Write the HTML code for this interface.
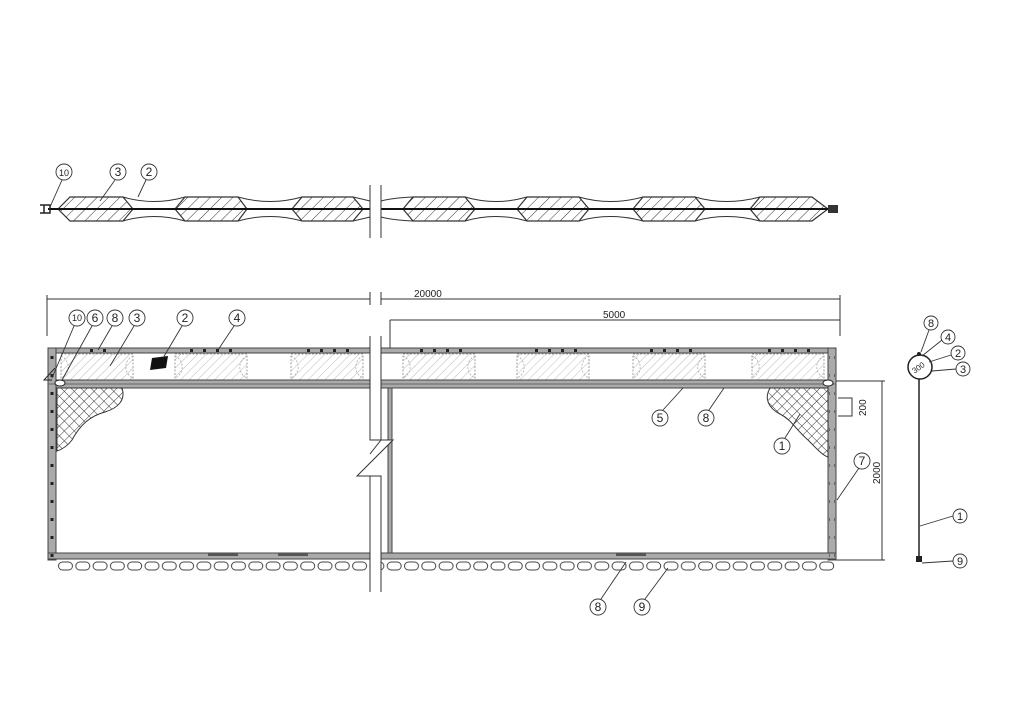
<!DOCTYPE html>
<html><head><meta charset="utf-8"><style>
html,body{margin:0;padding:0;background:#fff}
svg{display:block}
text{font-family:"Liberation Sans",sans-serif;fill:#222}
</style></head><body>
<svg width="1024" height="724" viewBox="0 0 1024 724" xmlns="http://www.w3.org/2000/svg">
<defs>
<pattern id="h1" patternUnits="userSpaceOnUse" width="8" height="8" patternTransform="rotate(45)"><line x1="0" y1="0" x2="0" y2="8" stroke="#333" stroke-width="1"/></pattern>
<pattern id="h2" patternUnits="userSpaceOnUse" width="6" height="6" patternTransform="rotate(45)"><line x1="0" y1="0" x2="0" y2="6" stroke="#aaa" stroke-width="0.8"/></pattern>
<pattern id="xh" patternUnits="userSpaceOnUse" width="7" height="7" patternTransform="rotate(45)"><path d="M0 0V7M0 0H7" stroke="#333" stroke-width="1" fill="none"/></pattern>
<pattern id="wt" patternUnits="userSpaceOnUse" x="57" y="560" width="17.3" height="12"><rect x="1.5" y="2" width="14" height="8" rx="4" fill="#fff" stroke="#444" stroke-width="1"/></pattern>
<pattern id="pd" patternUnits="userSpaceOnUse" x="0" y="350" width="8" height="18"><rect x="2.5" y="6" width="3" height="3" fill="#222"/></pattern>
</defs>

<!-- TOP VIEW -->
<g fill="none" stroke="#333" stroke-width="1">
<path d="M123 197 Q154 206 185 197 M238 197 Q270 206 302 197 M353 197 Q362 199 370 201"/>
<path d="M123 221 Q154 212 185 221 M238 221 Q270 212 302 221 M353 221 Q362 219 370 217"/>
<path d="M381 201 Q392 198 413 197 M465 197 Q496 206 527 197 M579 197 Q610 206 643 197 M695 197 Q726 206 760 197"/>
<path d="M381 217 Q392 220 413 221 M465 221 Q496 212 527 221 M579 221 Q610 212 643 221 M695 221 Q726 212 760 221"/>
</g>
<g fill="url(#h1)" stroke="#333" stroke-width="1.2">
<path d="M58 209L70 197L123 197L133 209L123 221L70 221Z"/>
<path d="M175 209L185 197L238 197L247 209L238 221L185 221Z"/>
<path d="M292 209L302 197L353 197L363 209L353 221L302 221Z"/>
<path d="M403 209L413 197L465 197L475 209L465 221L413 221Z"/>
<path d="M517 209L527 197L579 197L589 209L579 221L527 221Z"/>
<path d="M633 209L643 197L695 197L705 209L695 221L643 221Z"/>
<path d="M750 209L760 197L812 197L828 209L812 221L760 221Z"/>
</g>
<line x1="48" y1="209" x2="370" y2="209" stroke="#111" stroke-width="2"/>
<line x1="381" y1="209" x2="836" y2="209" stroke="#111" stroke-width="2"/>
<path d="M40 205H50V213H40M44 205V213" fill="none" stroke="#222" stroke-width="1.5"/>
<rect x="828" y="205" width="10" height="8" fill="#333"/>
<line x1="370" y1="185" x2="370" y2="238" stroke="#333"/>
<line x1="381" y1="185" x2="381" y2="238" stroke="#333"/>

<!-- DIMENSIONS -->
<g stroke="#333" stroke-width="1" fill="none">
<line x1="47" y1="299" x2="370" y2="299"/><line x1="381" y1="299" x2="840" y2="299"/>
<line x1="47" y1="295" x2="47" y2="336"/><line x1="840" y1="295" x2="840" y2="336"/>
<line x1="370" y1="292" x2="370" y2="305"/><line x1="381" y1="292" x2="381" y2="305"/>
<line x1="390" y1="320" x2="840" y2="320"/><line x1="390" y1="320" x2="390" y2="349"/>
<line x1="836" y1="381" x2="885" y2="381"/><line x1="836" y1="560" x2="885" y2="560"/>
<line x1="882" y1="381" x2="882" y2="560"/>
<path d="M838 398H852V416H838"/>
</g>
<text x="414" y="297" font-size="10">20000</text>
<text x="603" y="318" font-size="10">5000</text>
<text x="866" y="416" font-size="10" transform="rotate(-90 866 416)">200</text>
<text x="880" y="484" font-size="10" transform="rotate(-90 880 484)">2000</text>

<!-- PLAN VIEW -->
<g fill="url(#h2)" stroke="#888" stroke-width="0.8" stroke-dasharray="2 1.5">
<rect x="61" y="354" width="72" height="26"/><rect x="175" y="354" width="72" height="26"/>
<rect x="291" y="354" width="72" height="26"/><rect x="403" y="354" width="72" height="26"/>
<rect x="517" y="354" width="72" height="26"/><rect x="633" y="354" width="72" height="26"/>
<rect x="752" y="354" width="72" height="26"/>
</g>
<g fill="none" stroke="#aaa" stroke-width="0.8" stroke-dasharray="2 1.5">
<path d="M61 356A12 12 0 0 1 61 378M133 356A12 12 0 0 0 133 378M175 356A12 12 0 0 1 175 378M247 356A12 12 0 0 0 247 378M291 356A12 12 0 0 1 291 378M363 356A12 12 0 0 0 363 378M403 356A12 12 0 0 1 403 378M475 356A12 12 0 0 0 475 378M517 356A12 12 0 0 1 517 378M589 356A12 12 0 0 0 589 378M633 356A12 12 0 0 1 633 378M705 356A12 12 0 0 0 705 378M752 356A12 12 0 0 1 752 378M824 356A12 12 0 0 0 824 378"/>
</g>
<g fill="#aaa" stroke="#444" stroke-width="1">
<rect x="48" y="348" width="788" height="5"/>
<rect x="48" y="380" width="788" height="8"/>
<rect x="48" y="348" width="8" height="212"/>
<rect x="828" y="348" width="8" height="212"/>
<rect x="48" y="553" width="788" height="6"/>
<rect x="388" y="388" width="4" height="165"/>
</g>
<line x1="48" y1="384" x2="836" y2="384" stroke="#666"/>
<rect x="49" y="350" width="6" height="210" fill="url(#pd)"/>
<rect x="829" y="350" width="6" height="210" fill="url(#pd)"/>
<g fill="#222">
<rect x="90" y="349" width="3" height="3"/><rect x="103" y="349" width="3" height="3"/><rect x="190" y="349" width="3" height="3"/><rect x="203" y="349" width="3" height="3"/><rect x="216" y="349" width="3" height="3"/><rect x="229" y="349" width="3" height="3"/>
<rect x="307" y="349" width="3" height="3"/><rect x="320" y="349" width="3" height="3"/><rect x="333" y="349" width="3" height="3"/><rect x="346" y="349" width="3" height="3"/>
<rect x="420" y="349" width="3" height="3"/><rect x="433" y="349" width="3" height="3"/><rect x="446" y="349" width="3" height="3"/><rect x="459" y="349" width="3" height="3"/>
<rect x="535" y="349" width="3" height="3"/><rect x="548" y="349" width="3" height="3"/><rect x="561" y="349" width="3" height="3"/><rect x="574" y="349" width="3" height="3"/>
<rect x="650" y="349" width="3" height="3"/><rect x="663" y="349" width="3" height="3"/><rect x="676" y="349" width="3" height="3"/><rect x="689" y="349" width="3" height="3"/>
<rect x="768" y="349" width="3" height="3"/><rect x="781" y="349" width="3" height="3"/><rect x="794" y="349" width="3" height="3"/><rect x="807" y="349" width="3" height="3"/>
</g>
<path d="M57 388H122C126 400 118 408 105 412C90 416 80 425 72 440C66 448 60 450 57 451Z" fill="url(#xh)" stroke="#333"/>
<path d="M828 388H770C764 398 768 408 780 414C792 420 796 430 808 440C816 448 822 455 828 457Z" fill="url(#xh)" stroke="#333"/>
<rect x="57" y="559" width="779" height="12" fill="url(#wt)"/>
<rect x="278" y="553" width="30" height="3" fill="#555"/><rect x="208" y="553" width="30" height="3" fill="#555"/>
<rect x="616" y="553" width="30" height="3" fill="#555"/>
<!-- break -->
<rect x="370" y="336" width="11" height="256" fill="#fff"/>
<path d="M370 440H393L357 476H381Z" fill="#fff"/>
<g stroke="#333" fill="none">
<path d="M370 336V440H393L357 476H381V592"/>
<path d="M381 336V440L370 454M370 476V592"/>
</g>
<path d="M152 358L168 356L166 368L150 370Z" fill="#111"/>
<path d="M52 380L44 380L55 368" fill="none" stroke="#222"/>
<ellipse cx="60" cy="383" rx="5" ry="3" fill="#fff" stroke="#222"/>
<ellipse cx="828" cy="383" rx="5" ry="3" fill="#fff" stroke="#222"/>

<!-- SIDE VIEW -->
<circle cx="920" cy="367" r="12" fill="#fff" stroke="#222" stroke-width="1.5"/>
<text x="912" y="372" font-size="8" transform="rotate(-35 916 369)">300</text>
<line x1="919" y1="379" x2="919" y2="558" stroke="#222" stroke-width="1.5"/>
<circle cx="919" cy="354" r="2" fill="#222"/>
<rect x="916" y="556" width="6" height="6" fill="#222"/>

<!-- LABELS -->
<g fill="none" stroke="#333" stroke-width="0.9">
<circle cx="64" cy="172" r="8"/><circle cx="118" cy="172" r="8"/><circle cx="149" cy="172" r="8"/>
<path d="M62 180L50 207M115 180L100 201M146 180L138 197"/>
<circle cx="77" cy="318" r="8"/><circle cx="95" cy="318" r="8"/><circle cx="115" cy="318" r="8"/><circle cx="137" cy="318" r="8"/><circle cx="185" cy="318" r="8"/><circle cx="237" cy="318" r="8"/>
<path d="M74 326L52 378M92 326L62 380M112 326L98 350M134 326L110 366M182 326L163 358M234 326L218 350"/>
<circle cx="660" cy="418" r="8"/><circle cx="706" cy="418" r="8"/><circle cx="782" cy="446" r="8"/><circle cx="862" cy="461" r="8"/>
<path d="M663 410L683 388M709 410L724 388M785 438L800 414M859 468L837 500"/>
<circle cx="598" cy="607" r="8"/><circle cx="642" cy="607" r="8"/>
<path d="M601 599L626 562M645 599L668 568"/>
<circle cx="931" cy="323" r="7"/><circle cx="948" cy="337" r="7"/><circle cx="958" cy="353" r="7"/><circle cx="963" cy="369" r="7"/><circle cx="960" cy="516" r="7"/><circle cx="960" cy="561" r="7"/>
<path d="M929 330L921 352M942 340L922 356M951 355L929 362M956 369L932 371M953 516L920 526M953 561L922 563"/>
</g>
<g font-size="12" text-anchor="middle">
<text x="64" y="176" font-size="9">10</text><text x="118" y="176">3</text><text x="149" y="176">2</text>
<text x="77" y="321" font-size="9">10</text><text x="95" y="322">6</text><text x="115" y="322">8</text><text x="137" y="322">3</text><text x="185" y="322">2</text><text x="237" y="322">4</text>
<text x="660" y="422">5</text><text x="706" y="422">8</text><text x="782" y="450">1</text><text x="862" y="465">7</text>
<text x="598" y="611">8</text><text x="642" y="611">9</text>
<text x="931" y="327" font-size="11">8</text><text x="948" y="341" font-size="11">4</text><text x="958" y="357" font-size="11">2</text><text x="963" y="373" font-size="11">3</text><text x="960" y="520" font-size="11">1</text><text x="960" y="565" font-size="11">9</text>
</g>
</svg>
</body></html>
